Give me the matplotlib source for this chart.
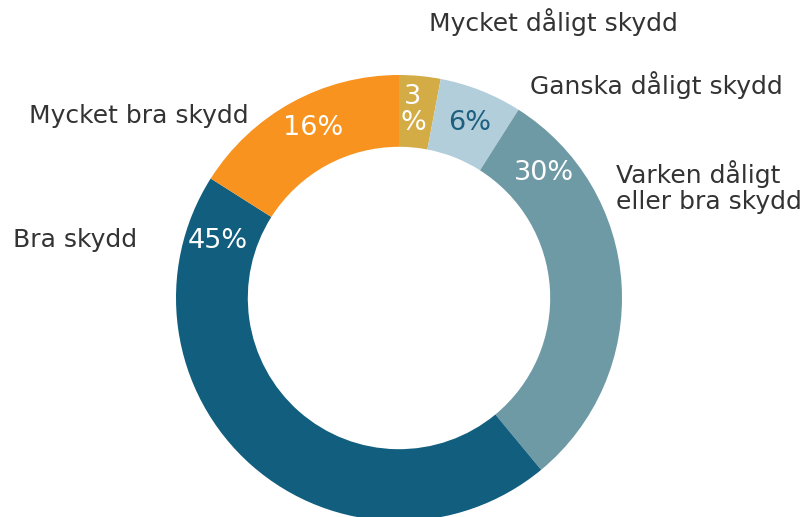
import numpy as np
import matplotlib.pyplot as plt

# data, clockwise from the top
categories = ["Mycket dåligt skydd", "Ganska dåligt skydd", "Varken dåligt\neller bra skydd",
              "Bra skydd", "Mycket bra skydd"]
values = [3, 6, 30, 45, 16]
pct_labels = ["3\n%", "6%", "30%", "45%", "16%"]
colors = ["#D3AC45", "#B1CEDA", "#6E9AA5", "#115E7E", "#F7931E"]
pct_colors = ["white", "#1D5F80", "white", "white", "white"]

W, H = 810, 517
cx, cy, R = 399, 298, 223   # donut centre / radius in pixels

def px(x, y):
    # pixel position -> data coords (1 unit = outer radius)
    return (x - cx) / R, (cy - y) / R

fig = plt.figure(figsize=(W / 100, H / 100), dpi=100)
ax = fig.add_axes([0, 0, 1, 1])
ax.pie(values, colors=colors, startangle=90, counterclock=False,
       radius=1, wedgeprops=dict(width=0.322, edgecolor="none"))
ax.set_xlim(-cx / R, (W - cx) / R)
ax.set_ylim(-(H - cy) / R, cy / R)
ax.set_aspect("auto")
ax.axis("off")

# percent labels, placed in the ring
pct_pos = [(413, 110), (470, 123), (544, 173), (218, 241), (313, 128)]
for lab, c, (x, y) in zip(pct_labels, pct_colors, pct_pos):
    ax.text(*px(x, y), lab, color=c, fontsize=19.5, ha="center", va="center",
            linespacing=1.0)

# category labels outside
txt = "#333333"
fs = 18
ax.text(*px(553, 22), categories[0], color=txt, fontsize=fs, ha="center", va="center")
ax.text(*px(530, 85), categories[1], color=txt, fontsize=fs, ha="left", va="center")
ax.text(*px(616, 187), categories[2], color=txt, fontsize=fs, ha="left", va="center",
        linespacing=1.1)
ax.text(*px(13, 240), categories[3], color=txt, fontsize=fs, ha="left", va="center")
ax.text(*px(249, 116), categories[4], color=txt, fontsize=fs, ha="right", va="center")

fig.savefig("out.png", dpi=100)
